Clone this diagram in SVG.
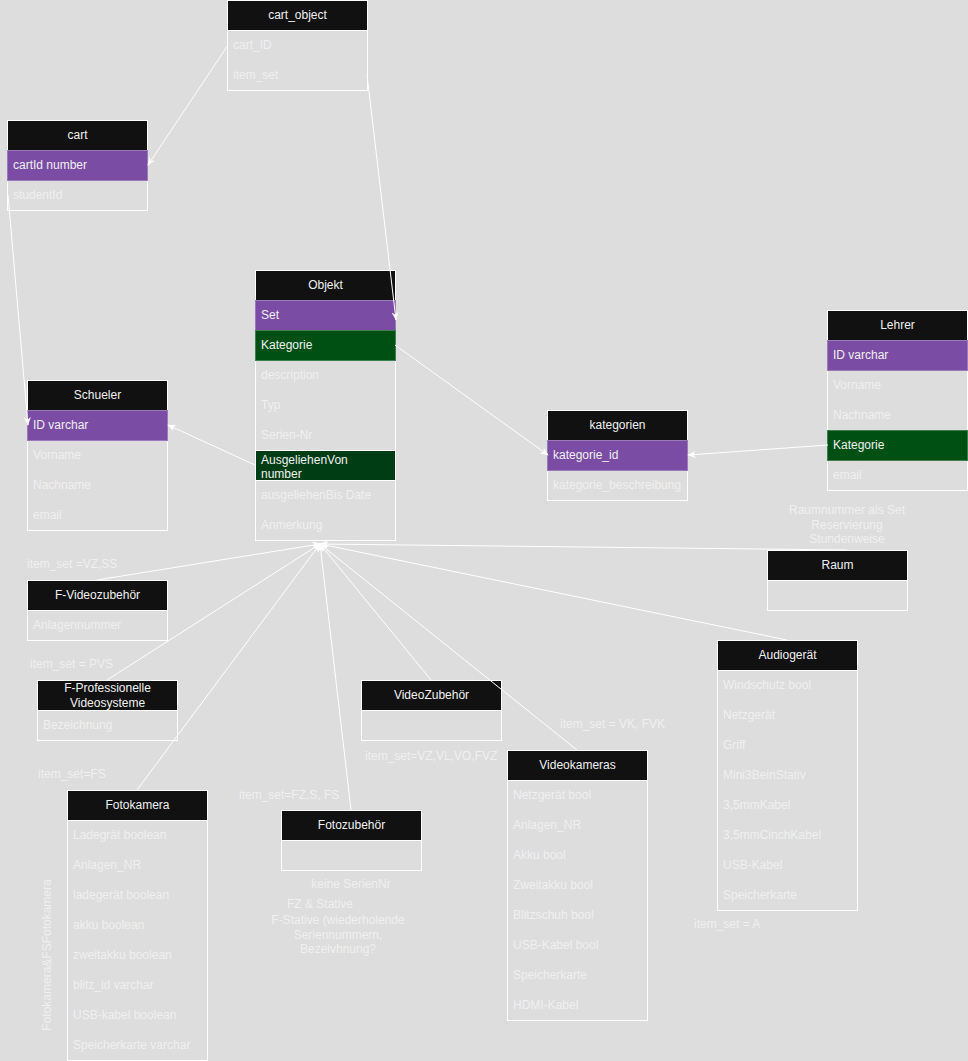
<svg xmlns="http://www.w3.org/2000/svg" width="968" height="1061" viewBox="0 0 968 1061">
<defs>
<style>
text{font-family:"Liberation Sans",Arial,sans-serif;font-size:12px;fill:#f0f0f0}
.hd{text-anchor:middle}
.box{fill:none;stroke:#ffffff;stroke-width:1}
.head{fill:#111111;stroke:#ffffff;stroke-width:1}
.pk{fill:#7a4ca3;stroke:#9a7ab8;stroke-width:1}
.fk{fill:#005014;stroke:#3f7f50;stroke-width:1}
.fk2{fill:#003c14;stroke:#ffffff;stroke-width:1}
.c{fill:none;stroke:#ffffff;stroke-width:1;marker-end:url(#arr)}
.note{text-anchor:middle}
</style>
<marker id="arr" viewBox="0 0 10 8" refX="9" refY="4" markerWidth="9" markerHeight="7" markerUnits="userSpaceOnUse" orient="auto">
<path d="M0,0 L10,4 L0,8 L3,4 Z" fill="#ffffff"/>
</marker>
</defs>
<rect x="0" y="0" width="968" height="1061" fill="#dddddd"/>

<g id="cart_object">
<rect class="box" x="227.5" y="0.5" width="140" height="90"/>
<rect class="head" x="227.5" y="0.5" width="140" height="30"/>
<text class="hd" x="297.5" y="19">cart_object</text>
<text x="233" y="49">cart_ID</text>
<text x="233" y="79">item_set</text>
</g>

<g id="cart">
<rect class="box" x="7.5" y="120.5" width="140" height="90"/>
<rect class="head" x="7.5" y="120.5" width="140" height="30"/>
<text class="hd" x="77.5" y="139">cart</text>
<rect class="pk" x="7.5" y="150.5" width="140" height="30"/>
<text x="13" y="169">cartId number</text>
<text x="13" y="199">studentId</text>
</g>

<g id="Objekt">
<rect class="box" x="255.5" y="270.5" width="140" height="270"/>
<rect class="head" x="255.5" y="270.5" width="140" height="30"/>
<text class="hd" x="325.5" y="289">Objekt</text>
<rect class="pk" x="255.5" y="300.5" width="140" height="30"/>
<text x="261" y="319">Set</text>
<rect class="fk" x="255.5" y="330.5" width="140" height="30"/>
<text x="261" y="349">Kategorie</text>
<text x="261" y="379">description</text>
<text x="261" y="409">Typ</text>
<text x="261" y="439">Serien-Nr</text>
<rect class="fk2" x="255.5" y="450.5" width="140" height="30"/>
<text x="261" y="464">AusgeliehenVon</text>
<text x="261" y="478">number</text>
<text x="261" y="499">ausgeliehenBis Date</text>
<text x="261" y="529">Anmerkung</text>
</g>

<g id="Schueler">
<rect class="box" x="27.5" y="380.5" width="140" height="150"/>
<rect class="head" x="27.5" y="380.5" width="140" height="30"/>
<text class="hd" x="97.5" y="399">Schueler</text>
<rect class="pk" x="27.5" y="410.5" width="140" height="30"/>
<text x="33" y="429">ID varchar</text>
<text x="33" y="459">Vorname</text>
<text x="33" y="489">Nachname</text>
<text x="33" y="519">email</text>
</g>

<g id="kategorien">
<rect class="box" x="547.5" y="410.5" width="140" height="90"/>
<rect class="head" x="547.5" y="410.5" width="140" height="30"/>
<text class="hd" x="617.5" y="429">kategorien</text>
<rect class="pk" x="547.5" y="440.5" width="140" height="30"/>
<text x="553" y="459">kategorie_id</text>
<text x="553" y="489">kategorie_beschreibung</text>
</g>

<g id="Lehrer">
<rect class="box" x="827.5" y="310.5" width="140" height="180"/>
<rect class="head" x="827.5" y="310.5" width="140" height="30"/>
<text class="hd" x="897.5" y="329">Lehrer</text>
<rect class="pk" x="827.5" y="340.5" width="140" height="30"/>
<text x="833" y="359">ID varchar</text>
<text x="833" y="389">Vorname</text>
<text x="833" y="419">Nachname</text>
<rect class="fk" x="827.5" y="430.5" width="140" height="30"/>
<text x="833" y="449">Kategorie</text>
<text x="833" y="479">email</text>
</g>

<g id="Raum">
<rect class="box" x="767.5" y="550.5" width="140" height="60"/>
<rect class="head" x="767.5" y="550.5" width="140" height="30"/>
<text class="hd" x="837.5" y="569">Raum</text>
</g>

<g id="F-Videozubehoer">
<rect class="box" x="27.5" y="580.5" width="140" height="60"/>
<rect class="head" x="27.5" y="580.5" width="140" height="30"/>
<text class="hd" x="97.5" y="599">F-Videozubehör</text>
<text x="33" y="629">Anlagennummer</text>
</g>

<g id="F-Professionelle-Videosysteme">
<rect class="box" x="37.5" y="680.5" width="140" height="60"/>
<rect class="head" x="37.5" y="680.5" width="140" height="30"/>
<text class="hd" x="107.5" y="692">F-Professionelle</text>
<text class="hd" x="107.5" y="707">Videosysteme</text>
<text x="43" y="729">Bezeichnung</text>
</g>

<g id="VideoZubehoer">
<rect class="box" x="361.5" y="680.5" width="140" height="60"/>
<rect class="head" x="361.5" y="680.5" width="140" height="30"/>
<text class="hd" x="431.5" y="699">VideoZubehör</text>
</g>

<g id="Videokameras">
<rect class="box" x="507.5" y="750.5" width="140" height="270"/>
<rect class="head" x="507.5" y="750.5" width="140" height="30"/>
<text class="hd" x="577.5" y="769">Videokameras</text>
<text x="513" y="799">Netzgerät bool</text>
<text x="513" y="829">Anlagen_NR</text>
<text x="513" y="859">Akku bool</text>
<text x="513" y="889">Zweitakku bool</text>
<text x="513" y="919">Blitzschuh bool</text>
<text x="513" y="949">USB-Kabel bool</text>
<text x="513" y="979">Speicherkarte</text>
<text x="513" y="1009">HDMI-Kabel</text>
</g>

<g id="Audiogeraet">
<rect class="box" x="717.5" y="640.5" width="140" height="270"/>
<rect class="head" x="717.5" y="640.5" width="140" height="30"/>
<text class="hd" x="787.5" y="659">Audiogerät</text>
<text x="723" y="689">Windschutz bool</text>
<text x="723" y="719">Netzgerät</text>
<text x="723" y="749">Griff</text>
<text x="723" y="779">Mini3BeinStativ</text>
<text x="723" y="809">3,5mmKabel</text>
<text x="723" y="839">3,5mmCinchKabel</text>
<text x="723" y="869">USB-Kabel</text>
<text x="723" y="899">Speicherkarte</text>
</g>

<g id="Fotokamera">
<rect class="box" x="67.5" y="790.5" width="140" height="270"/>
<rect class="head" x="67.5" y="790.5" width="140" height="30"/>
<text class="hd" x="137.5" y="809">Fotokamera</text>
<text x="73" y="839">Ladegrät boolean</text>
<text x="73" y="869">Anlagen_NR</text>
<text x="73" y="899">ladegerät boolean</text>
<text x="73" y="929">akku boolean</text>
<text x="73" y="959">zweitakku boolean</text>
<text x="73" y="989">blitz_id varchar</text>
<text x="73" y="1019">USB-kabel boolean</text>
<text x="73" y="1049">Speicherkarte varchar</text>
</g>

<g id="Fotozubehoer">
<rect class="box" x="281.5" y="810.5" width="140" height="60"/>
<rect class="head" x="281.5" y="810.5" width="140" height="30"/>
<text class="hd" x="351.5" y="829">Fotozubehör</text>
</g>

<g id="connectors">
<path class="c" d="M228,45 L148,165"/>
<path class="c" d="M367,75 L396,320"/>
<path class="c" d="M8,195 L28,425"/>
<path class="c" d="M255,465 L168,425"/>
<path class="c" d="M395,345 L548,455"/>
<path class="c" d="M828,445 L688,455"/>
<path class="c" d="M97,580 L320,544"/>
<path class="c" d="M107,680 L320,544"/>
<path class="c" d="M137,790 L320,544"/>
<path class="c" d="M351,810 L320,544"/>
<path class="c" d="M431,680 L320,544"/>
<path class="c" d="M577,750 L320,544"/>
<path class="c" d="M787,640 L320,544"/>
<path class="c" d="M847,550 L320,544"/>
</g>

<g id="labels">
<text x="27" y="568">item_set =VZ,SS</text>
<text x="30" y="668">item_set = PVS</text>
<text x="38" y="778">item_set=FS</text>
<text x="365" y="760">item_set=VZ,VL,VO,FVZ</text>
<text x="239" y="799">item_set=FZ,S, FS</text>
<text x="560" y="728">item_set = VK, FVK</text>
<text x="694" y="928">item_set = A</text>
<text class="note" x="847" y="514">Raumnummer als Set</text>
<text class="note" x="847" y="528.5">Reservierung</text>
<text class="note" x="847" y="543">Stundenweise</text>
<text class="note" x="351" y="888">keine SerienNr</text>
<text class="note" x="320" y="908">FZ &amp; Stative</text>
<text class="note" x="338" y="924">F-Stative (wiederholende</text>
<text class="note" x="338" y="938.5">Seriennummern,</text>
<text class="note" x="338" y="953">Bezeivhnung?</text>
<text class="note" transform="translate(51,955) rotate(-90)">Fotokamera&amp;FSFotokamera</text>
</g>
</svg>
